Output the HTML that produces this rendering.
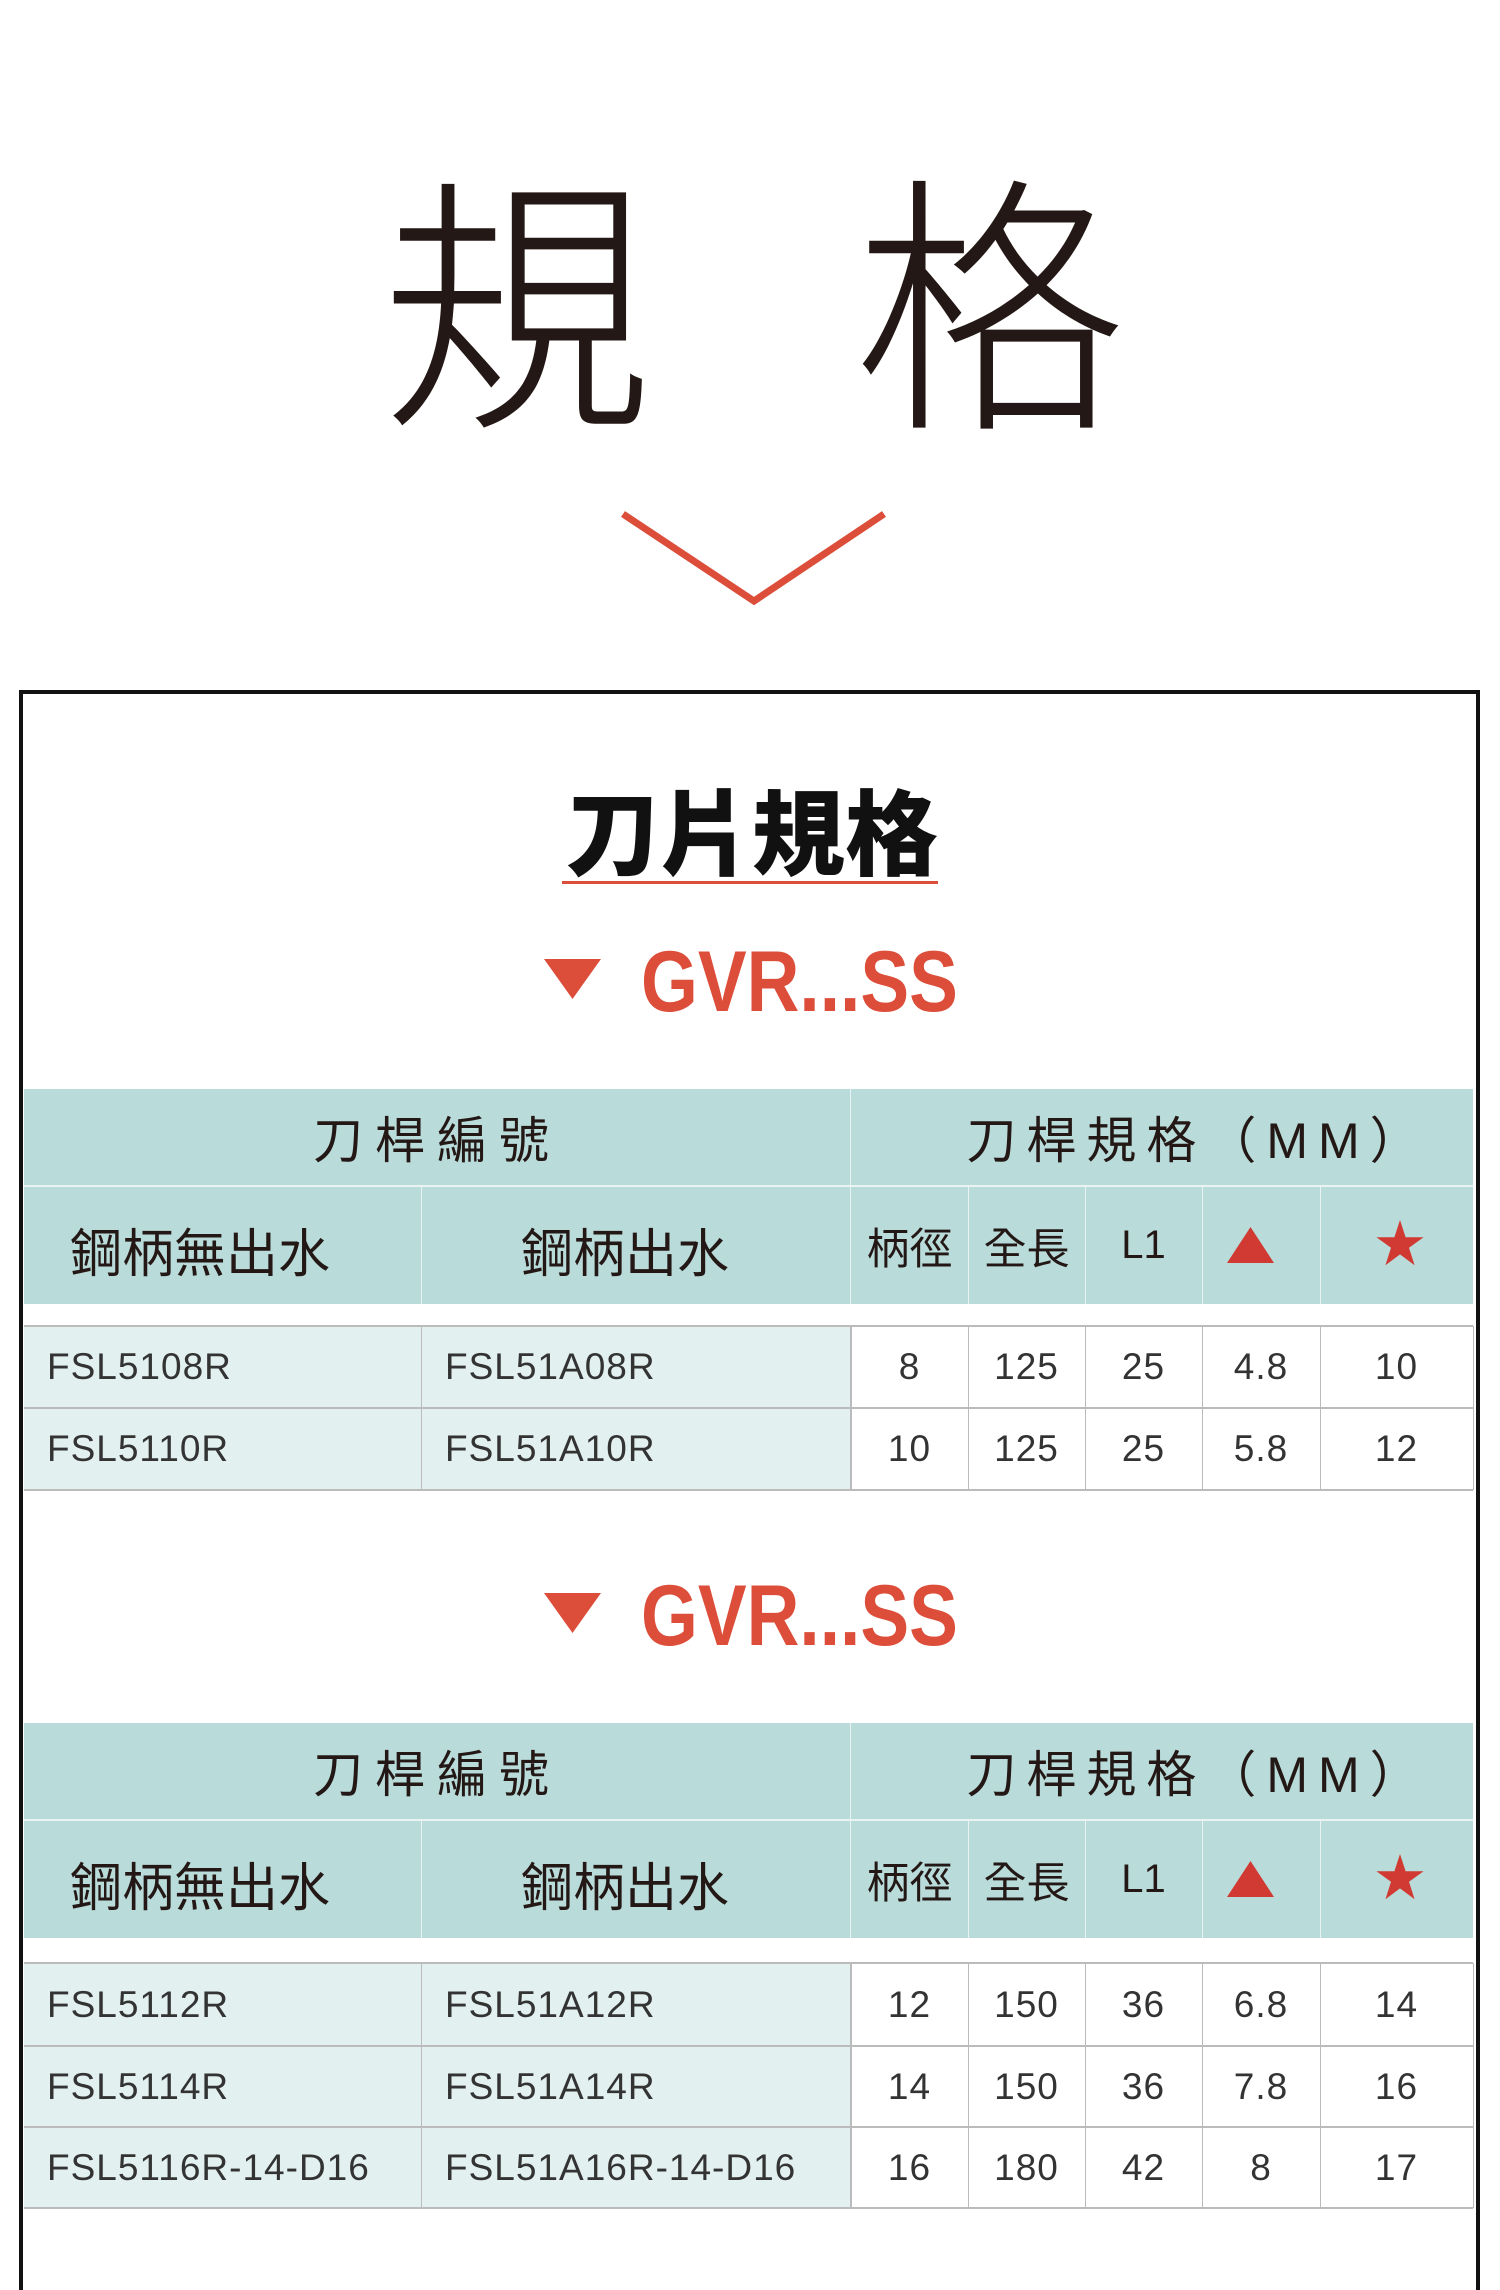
<!DOCTYPE html>
<html><head><meta charset="utf-8"><style>
*{margin:0;padding:0;box-sizing:border-box}
body{width:1500px;height:2245px;background:#fff;position:relative;overflow:hidden;font-family:"Liberation Sans","Noto Sans CJK TC",sans-serif;color:#231815}
.a{position:absolute}
.c{position:absolute;display:flex;align-items:center;justify-content:center;white-space:nowrap}
.h{background:#b9dbd9}
.l{background:#e2f0ef}
.d{font-size:37px;color:#333;letter-spacing:1px}
.sub{font-family:"Liberation Sans",sans-serif;font-weight:bold;color:#dc4d3a;font-size:86px;transform:scaleX(0.85);transform-origin:0 0;white-space:nowrap}
</style></head><body>
<div class="c" style="left:382px;top:135px;width:270px;height:310px;font-size:272px;font-family:'Noto Sans CJK TC',sans-serif;font-weight:300">規</div>
<div class="c" style="left:855px;top:135px;width:270px;height:310px;font-size:272px;font-family:'Noto Sans CJK TC',sans-serif;font-weight:300">格</div>
<svg class="a" style="left:0;top:0" width="1500" height="700"><polyline points="623,514 754,601 884,514" fill="none" stroke="#dc4d3a" stroke-width="7"/></svg>
<div class="a" style="left:19px;top:690px;width:1461px;height:1600px;border:4px solid #111;border-bottom:none"></div>
<div class="c" style="left:552px;top:775px;width:400px;height:105px;font-size:93px;font-weight:900;font-family:'Noto Sans CJK TC',sans-serif;color:#111">刀片規格</div>
<div class="a" style="left:562px;top:881px;width:376px;height:3px;background:#dc4d3a"></div>

<svg class="a" style="left:544px;top:959px" width="58" height="41"><polygon points="0,0 57,0 28.5,40" fill="#dc4d3a"/></svg>
<div class="a sub" style="left:641px;top:932px;line-height:100px">GVR...SS</div>
<svg class="a" style="left:544px;top:1593px" width="58" height="41"><polygon points="0,0 57,0 28.5,40" fill="#dc4d3a"/></svg>
<div class="a sub" style="left:641px;top:1566px;line-height:100px">GVR...SS</div>

<!-- Table 1 -->
<div class="a h" style="left:24px;top:1089px;width:1449px;height:215px"></div>
<div class="a" style="left:850px;top:1089px;width:1px;height:215px;background:#e8f3f2"></div>
<div class="a" style="left:24px;top:1185px;width:1449px;height:2px;background:#e8f3f2"></div>
<div class="a" style="left:421px;top:1187px;width:1px;height:117px;background:#e8f3f2"></div>
<div class="a" style="left:968px;top:1187px;width:1px;height:117px;background:#e8f3f2"></div>
<div class="a" style="left:1085px;top:1187px;width:1px;height:117px;background:#e8f3f2"></div>
<div class="a" style="left:1202px;top:1187px;width:1px;height:117px;background:#e8f3f2"></div>
<div class="a" style="left:1320px;top:1187px;width:1px;height:117px;background:#e8f3f2"></div>
<div class="c" style="left:24px;top:1089px;width:826px;height:96px;font-size:50px;letter-spacing:12px">刀桿編號</div>
<div class="c" style="left:978px;top:1089px;width:440px;height:96px;font-size:50px;letter-spacing:10px">刀桿規格（MM）</div>
<div class="a" style="left:70px;top:1212px;font-size:52px">鋼柄無出水</div>
<div class="a" style="left:521px;top:1212px;font-size:52px">鋼柄出水</div>
<div class="c" style="left:851px;top:1187px;width:117px;height:117px;font-size:43px">柄徑</div>
<div class="c" style="left:968px;top:1187px;width:117px;height:117px;font-size:43px">全長</div>
<div class="c" style="left:1085px;top:1187px;width:117px;height:117px;font-size:40px">L1</div>
<svg class="a" style="left:1227px;top:1227px" width="47" height="36"><polygon points="23.5,0 47,36 0,36" fill="#d03a32"/></svg>
<svg class="a" style="left:1376px;top:1220px" width="48" height="46" viewBox="0 0 24 23"><polygon points="12,0 14.8,8.6 23.8,8.6 16.5,13.9 19.3,22.6 12,17.2 4.7,22.6 7.5,13.9 0.2,8.6 9.2,8.6" fill="#d03a32"/></svg>
<div class="a l" style="left:24px;top:1326px;width:826px;height:164px"></div>
<div class="a" style="left:24px;top:1325px;width:1449px;height:2px;background:#bbb"></div>
<div class="a" style="left:24px;top:1407px;width:1449px;height:2px;background:#bbb"></div>
<div class="a" style="left:24px;top:1489px;width:1449px;height:2px;background:#bbb"></div>
<div class="a" style="left:421px;top:1326px;width:1px;height:164px;background:#bbb"></div>
<div class="a" style="left:850px;top:1326px;width:2px;height:164px;background:#bbb"></div>
<div class="a" style="left:968px;top:1326px;width:1px;height:164px;background:#bbb"></div>
<div class="a" style="left:1085px;top:1326px;width:1px;height:164px;background:#bbb"></div>
<div class="a" style="left:1202px;top:1326px;width:1px;height:164px;background:#bbb"></div>
<div class="a" style="left:1320px;top:1326px;width:1px;height:164px;background:#bbb"></div>
<div class="a" style="left:1473px;top:1326px;width:1px;height:164px;background:#bbb"></div>
<div class="c d" style="left:24px;top:1327px;height:80px;width:200px;justify-content:flex-start;padding-left:23px">FSL5108R</div>
<div class="c d" style="left:421px;top:1327px;height:80px;width:300px;justify-content:flex-start;padding-left:24px">FSL51A08R</div>
<div class="c d" style="left:851px;top:1327px;width:117px;height:80px">8</div>
<div class="c d" style="left:968px;top:1327px;width:117px;height:80px">125</div>
<div class="c d" style="left:1085px;top:1327px;width:117px;height:80px">25</div>
<div class="c d" style="left:1202px;top:1327px;width:118px;height:80px">4.8</div>
<div class="c d" style="left:1320px;top:1327px;width:153px;height:80px">10</div>
<div class="c d" style="left:24px;top:1409px;height:80px;width:200px;justify-content:flex-start;padding-left:23px">FSL5110R</div>
<div class="c d" style="left:421px;top:1409px;height:80px;width:300px;justify-content:flex-start;padding-left:24px">FSL51A10R</div>
<div class="c d" style="left:851px;top:1409px;width:117px;height:80px">10</div>
<div class="c d" style="left:968px;top:1409px;width:117px;height:80px">125</div>
<div class="c d" style="left:1085px;top:1409px;width:117px;height:80px">25</div>
<div class="c d" style="left:1202px;top:1409px;width:118px;height:80px">5.8</div>
<div class="c d" style="left:1320px;top:1409px;width:153px;height:80px">12</div>

<!-- Table 2 -->
<div class="a h" style="left:24px;top:1723px;width:1449px;height:215px"></div>
<div class="a" style="left:850px;top:1723px;width:1px;height:215px;background:#e8f3f2"></div>
<div class="a" style="left:24px;top:1819px;width:1449px;height:2px;background:#e8f3f2"></div>
<div class="a" style="left:421px;top:1821px;width:1px;height:117px;background:#e8f3f2"></div>
<div class="a" style="left:968px;top:1821px;width:1px;height:117px;background:#e8f3f2"></div>
<div class="a" style="left:1085px;top:1821px;width:1px;height:117px;background:#e8f3f2"></div>
<div class="a" style="left:1202px;top:1821px;width:1px;height:117px;background:#e8f3f2"></div>
<div class="a" style="left:1320px;top:1821px;width:1px;height:117px;background:#e8f3f2"></div>
<div class="c" style="left:24px;top:1723px;width:826px;height:96px;font-size:50px;letter-spacing:12px">刀桿編號</div>
<div class="c" style="left:978px;top:1723px;width:440px;height:96px;font-size:50px;letter-spacing:10px">刀桿規格（MM）</div>
<div class="a" style="left:70px;top:1846px;font-size:52px">鋼柄無出水</div>
<div class="a" style="left:521px;top:1846px;font-size:52px">鋼柄出水</div>
<div class="c" style="left:851px;top:1821px;width:117px;height:117px;font-size:43px">柄徑</div>
<div class="c" style="left:968px;top:1821px;width:117px;height:117px;font-size:43px">全長</div>
<div class="c" style="left:1085px;top:1821px;width:117px;height:117px;font-size:40px">L1</div>
<svg class="a" style="left:1227px;top:1861px" width="47" height="36"><polygon points="23.5,0 47,36 0,36" fill="#d03a32"/></svg>
<svg class="a" style="left:1376px;top:1854px" width="48" height="46" viewBox="0 0 24 23"><polygon points="12,0 14.8,8.6 23.8,8.6 16.5,13.9 19.3,22.6 12,17.2 4.7,22.6 7.5,13.9 0.2,8.6 9.2,8.6" fill="#d03a32"/></svg>
<div class="a l" style="left:24px;top:1963px;width:826px;height:245px"></div>
<div class="a" style="left:24px;top:1962px;width:1449px;height:2px;background:#bbb"></div>
<div class="a" style="left:24px;top:2045px;width:1449px;height:2px;background:#bbb"></div>
<div class="a" style="left:24px;top:2126px;width:1449px;height:2px;background:#bbb"></div>
<div class="a" style="left:24px;top:2207px;width:1449px;height:2px;background:#bbb"></div>
<div class="a" style="left:421px;top:1963px;width:1px;height:245px;background:#bbb"></div>
<div class="a" style="left:850px;top:1963px;width:2px;height:245px;background:#bbb"></div>
<div class="a" style="left:968px;top:1963px;width:1px;height:245px;background:#bbb"></div>
<div class="a" style="left:1085px;top:1963px;width:1px;height:245px;background:#bbb"></div>
<div class="a" style="left:1202px;top:1963px;width:1px;height:245px;background:#bbb"></div>
<div class="a" style="left:1320px;top:1963px;width:1px;height:245px;background:#bbb"></div>
<div class="a" style="left:1473px;top:1963px;width:1px;height:245px;background:#bbb"></div>

<div class="c d" style="left:24px;top:1964px;height:81px;width:380px;justify-content:flex-start;padding-left:23px">FSL5112R</div>
<div class="c d" style="left:421px;top:1964px;height:81px;width:420px;justify-content:flex-start;padding-left:24px">FSL51A12R</div>
<div class="c d" style="left:851px;top:1964px;width:117px;height:81px">12</div>
<div class="c d" style="left:968px;top:1964px;width:117px;height:81px">150</div>
<div class="c d" style="left:1085px;top:1964px;width:117px;height:81px">36</div>
<div class="c d" style="left:1202px;top:1964px;width:118px;height:81px">6.8</div>
<div class="c d" style="left:1320px;top:1964px;width:153px;height:81px">14</div>

<div class="c d" style="left:24px;top:2047px;height:79px;width:380px;justify-content:flex-start;padding-left:23px">FSL5114R</div>
<div class="c d" style="left:421px;top:2047px;height:79px;width:420px;justify-content:flex-start;padding-left:24px">FSL51A14R</div>
<div class="c d" style="left:851px;top:2047px;width:117px;height:79px">14</div>
<div class="c d" style="left:968px;top:2047px;width:117px;height:79px">150</div>
<div class="c d" style="left:1085px;top:2047px;width:117px;height:79px">36</div>
<div class="c d" style="left:1202px;top:2047px;width:118px;height:79px">7.8</div>
<div class="c d" style="left:1320px;top:2047px;width:153px;height:79px">16</div>

<div class="c d" style="left:24px;top:2128px;height:79px;width:390px;justify-content:flex-start;padding-left:23px">FSL5116R-14-D16</div>
<div class="c d" style="left:421px;top:2128px;height:79px;width:420px;justify-content:flex-start;padding-left:24px">FSL51A16R-14-D16</div>
<div class="c d" style="left:851px;top:2128px;width:117px;height:79px">16</div>
<div class="c d" style="left:968px;top:2128px;width:117px;height:79px">180</div>
<div class="c d" style="left:1085px;top:2128px;width:117px;height:79px">42</div>
<div class="c d" style="left:1202px;top:2128px;width:118px;height:79px">8</div>
<div class="c d" style="left:1320px;top:2128px;width:153px;height:79px">17</div>
</body></html>
